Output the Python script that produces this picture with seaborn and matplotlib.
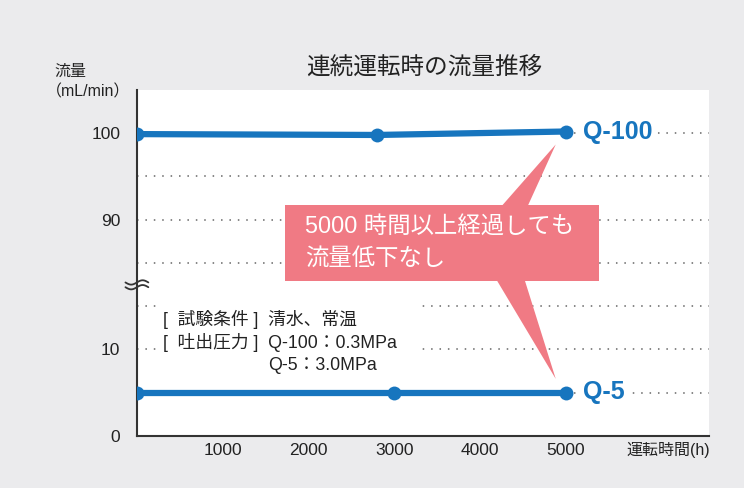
import numpy as np
import pandas as pd
import seaborn as sns
import matplotlib.pyplot as plt
from matplotlib.patches import Polygon, Rectangle

# データ
hours_q100 = [0, 2800, 5000]
flow_q100 = [99.9, 99.8, 100.2]
hours_q5 = [0, 3000, 5000]
flow_q5 = [5.0, 5.0, 5.0]
x_ticks = [1000, 2000, 3000, 4000, 5000]
y_tick_values = [0, 10, 90, 100]
grid_values = [5, 10, 15, 85, 90, 95, 100]

BREAK_SHIFT = 65  # 上側(80以上)を詰めて表示


def to_axis(v):
    v = np.asarray(v, dtype=float)
    return np.where(v > 50, v - BREAK_SHIFT, v)


df = pd.concat([
    pd.DataFrame({'hours': hours_q100, 'flow': to_axis(flow_q100), 'series': 'Q-100'}),
    pd.DataFrame({'hours': hours_q5, 'flow': to_axis(flow_q5), 'series': 'Q-5'}),
], ignore_index=True)

sns.set_theme(style='white')
plt.rcParams['font.family'] = ['Liberation Sans', 'Noto Sans CJK JP']

blue = '#1775be'
pink = '#f07a84'
bg = '#ebebed'
ink = '#222222'

fig = plt.figure(figsize=(7.44, 4.88), dpi=100, facecolor=bg)
ax = fig.add_axes([0.184, 0.1066, 0.769, 0.709])
ax.set_facecolor('white')

# 点線グリッド
for g in to_axis(grid_values):
    ax.axhline(g, color='#666666', linestyle=(0, (1, 4.5)), linewidth=1.1, zorder=1)

sns.lineplot(data=df, x='hours', y='flow', units='series', estimator=None,
             color=blue, linewidth=4.5, marker='o', markersize=10,
             markeredgewidth=0, ax=ax, zorder=4, legend=False)

ax.set_xlim(0, 6670)
ax.set_ylim(0, 40)
ax.set_xticks(x_ticks)
ax.set_xticklabels([str(t) for t in x_ticks], fontsize=12.5, color=ink)
ax.set_yticks(to_axis(y_tick_values))
ax.set_yticklabels([str(t) for t in y_tick_values], fontsize=12.5, color=ink)
ax.tick_params(axis='x', direction='in', length=6, width=1.2, color='#333333', pad=5)
ax.tick_params(axis='y', length=0, pad=12)
ax.set_xlabel('')
ax.set_ylabel('')
for s in ['top', 'right']:
    ax.spines[s].set_visible(False)
for s in ['left', 'bottom']:
    ax.spines[s].set_color('#333333')
    ax.spines[s].set_linewidth(1.5)

# 系列ラベル
ax.text(5200, to_axis(flow_q100[-1]) - 0.1, 'Q-100', color=blue, fontsize=18, fontweight='bold',
        va='center', ha='left', zorder=5,
        bbox=dict(boxstyle='square,pad=0.2', fc='white', ec='none'))
ax.text(5200, to_axis(flow_q5[-1]) + 0.1, 'Q-5', color=blue, fontsize=18, fontweight='bold',
        va='center', ha='left', zorder=5,
        bbox=dict(boxstyle='square,pad=0.2', fc='white', ec='none'))

# 吹き出し
ax.add_patch(Rectangle((1725, 17.9), 3660, 8.8, fc=pink, ec='none', zorder=6))
ax.add_patch(Polygon([(4254, 26.6), (4557, 26.6), (4883, 33.7)], closed=True,
                     fc=pink, ec='none', zorder=6))
ax.add_patch(Polygon([(4196, 18.0), (4522, 18.0), (4883, 6.6)], closed=True,
                     fc=pink, ec='none', zorder=6))
ax.text(1960, 22.3, '5000 時間以上経過しても\n流量低下なし', color='white', fontsize=16.8,
        va='center', ha='left', linespacing=1.45, zorder=7)

# 試験条件
ax.add_patch(Rectangle((270, 7.0), 3050, 9.0, fc='white', ec='none', zorder=2))
ax.text(300, 13.5, '[  試験条件 ]  清水、常温', fontsize=12.8, color=ink,
        va='center', ha='left', zorder=3)
ax.text(300, 10.85, '[  吐出圧力 ]  Q-100：0.3MPa', fontsize=12.8, color=ink,
        va='center', ha='left', zorder=3)
ax.text(1530, 8.1, 'Q-5：3.0MPa', fontsize=12.8, color=ink,
        va='center', ha='left', zorder=3)

# 軸の省略記号
t = np.linspace(-1, 1, 50)
for dy in (0.0, 0.55):
    xs = t * 0.02
    ys = 17.2 + dy + 0.25 * np.sin(t * np.pi)
    ax.plot(xs, ys, transform=ax.get_yaxis_transform(), color='#333333',
            linewidth=1.3, clip_on=False, zorder=8)

# タイトル・軸ラベル
fig.text(0.57, 0.862, '連続運転時の流量推移', fontsize=17, ha='center', va='center', color=ink)
fig.text(0.073, 0.853, '流量', fontsize=11.5, ha='left', va='center', color=ink)
fig.text(0.062, 0.812, '（mL/min）', fontsize=11.5, ha='left', va='center', color=ink)
fig.text(0.955, 0.078, '運転時間(h)', fontsize=11.5, ha='right', va='center', color=ink)

fig.savefig('out.png', dpi=100, facecolor=bg)
